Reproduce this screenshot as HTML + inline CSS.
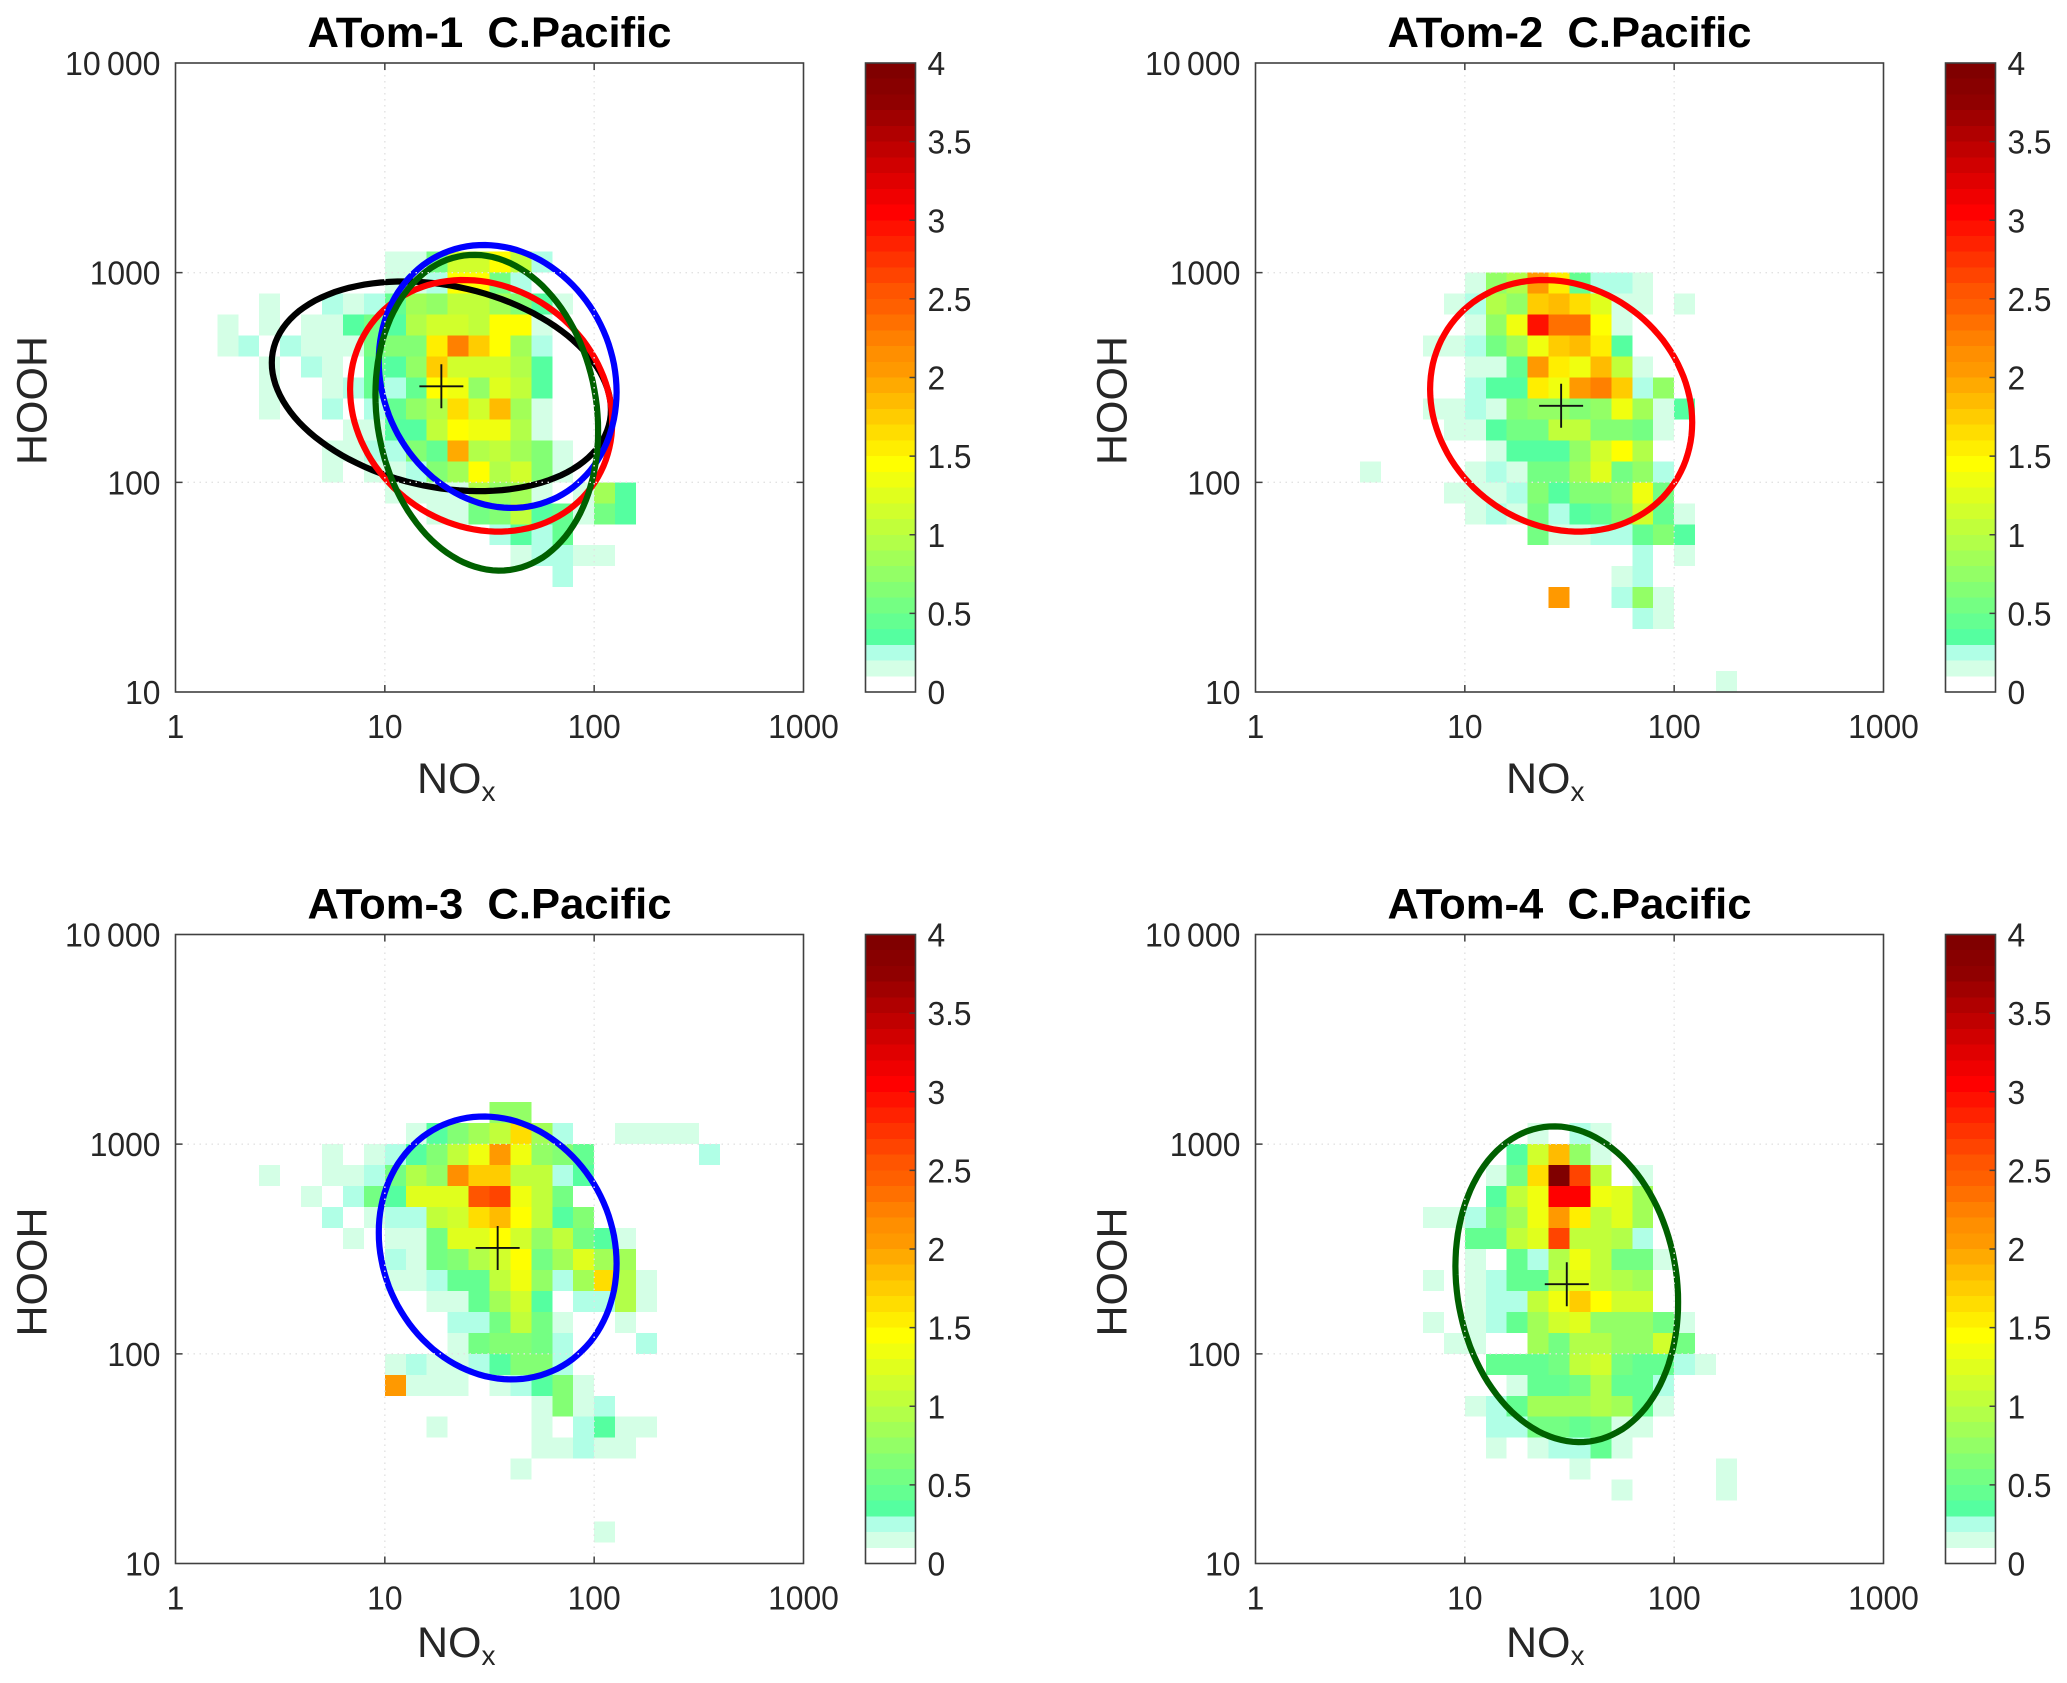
<!DOCTYPE html>
<html lang="en">
<head>
<meta charset="utf-8">
<title>ATom C.Pacific HOOH vs NOx</title>
<style>
html,body{margin:0;padding:0;background:#fff;}
svg{display:block;font-family:"Liberation Sans",sans-serif;}
</style>
</head>
<body>
<svg id="figure" xmlns="http://www.w3.org/2000/svg" width="2067" height="1683" viewBox="0 0 2067 1683"></svg>
<script>
// ---- chart data ----
const panelTitles = ["ATom-1  C.Pacific", "ATom-2  C.Pacific", "ATom-3  C.Pacific", "ATom-4  C.Pacific"];
const xTickValues = [1, 10, 100, 1000];
const xTickLabels = ["1", "10", "100", "1000"];
const yTickValues = [10, 100, 1000, 10000];
const yTickLabels = ["10", "100", "1000", "10\u2009000"];
const colorbarTickValues = [0, 0.5, 1, 1.5, 2, 2.5, 3, 3.5, 4];
const colorbarTickLabels = ["0", "0.5", "1", "1.5", "2", "2.5", "3", "3.5", "4"];

// Heatmap rows: [HOOH bin, first NOx bin, values]; bins are tenths of a decade above the axis minimum.
const atom1Rows = [
  [20,10,[.15,.15,.55,1.15,1.15,1.4,1,.25]],
  [19,10,[.15,.15,.25,1.4,1.4,.55,.25]],
  [18,4,[.15,0,0,.25,.15,.25,.4,.85,.75,1,1,.85,.65,.35,.15]],
  [17,2,[.15,0,.15,0,.15,.15,.35,.55,.35,.95,1.15,1.15,1.05,1.4,1.4,.15]],
  [16,2,[.15,.25,0,.25,.15,.15,.15,.5,.65,.65,1.55,2.25,1.75,1.45,.8,.25]],
  [15,4,[.15,0,.25,.15,0,.45,.35,.75,1.75,1.1,1.1,1.15,.9,.35]],
  [14,4,[.15,0,0,.15,.25,.45,.25,.4,1.4,1.3,.75,1.25,1,.35]],
  [13,4,[.15,0,0,.25,0,.25,.4,.7,.95,1.65,1.1,1.8,.8,.15]],
  [12,8,[.15,.15,.35,.35,1,1.45,1.35,1.3,.95,.15]],
  [11,7,[.15,.15,.25,.25,.6,.4,1.95,.9,1.05,.8,.6,.15]],
  [10,7,[.15,0,.15,.15,.25,.65,.85,1.45,.95,1.1,.6,.15]],
  [9,10,[.15,.15,.15,.15,.9,.7,.8,.15,0,.15,.85,.35]],
  [8,12,[.15,.15,.5,.6,1.05,.35,.45,.15,.55,.35]],
  [7,15,[.25,.35,.25,.4]],
  [6,16,[.15,.25,.25,.15,.15]],
  [5,18,[.25]]
];
const atom2Rows = [
  [19,10,[.15,.7,.9,2,1.5,.4,.25,.25,.15]],
  [18,9,[.15,.25,.9,.75,1.7,1.85,1.6,1.25,.15,.15,0,.15]],
  [17,10,[.15,.75,1.3,2.95,2.3,2.3,1.4,.15]],
  [16,8,[.15,.15,.25,.5,.8,1.3,1.7,1.8,1.55,.35]],
  [15,10,[.15,.15,.45,2.05,1.55,1.3,1.85,1,.15]],
  [14,10,[.25,.35,.35,1.55,1.3,2.05,2.2,1.75,.25,.75]],
  [13,8,[.15,.15,.25,.15,.65,.7,.7,.65,.75,1.3,.8,.15,.35]],
  [12,9,[.15,.15,.35,.5,.55,1,1,.6,.6,.55,.15]],
  [11,11,[.15,.35,.35,.35,.7,1.15,1.45,.95]],
  [10,5,[.15,0,0,0,0,.15,.25,.15,.5,.5,.85,1.25,.5,.7,.25]],
  [9,9,[.15,.15,.15,.25,.6,.35,.6,.6,.7,1.3,.5]],
  [8,10,[.15,.25,.15,.5,.25,.35,.45,.65,1.15,.45,.15]],
  [7,13,[.5,.15,.15,.25,.25,.45,.65,.35]],
  [6,18,[.25,0,.15]],
  [5,17,[.15,.25]],
  [4,14,[2.05,0,0,.25,.7,.15]],
  [3,18,[.25,.15]],
  [0,22,[.15]]
];
const atom3Rows = [
  [21,15,[.75,.75]],
  [20,11,[.15,.35,.65,.8,1,1.6,.85,.25,0,0,.15,.15,.15,.15]],
  [19,7,[.15,0,.15,.25,.35,.65,1.05,1.3,2,1.3,.7,.6,.4,0,0,0,0,0,.25]],
  [18,4,[.15,0,0,.15,.15,.25,.55,.95,.75,2.15,1.75,1.75,1.05,1,.25,.35]],
  [17,6,[.15,0,.25,.55,.35,1.25,1.25,1.25,2.5,2.65,1.3,1,.55]],
  [16,7,[.25,0,.15,.25,.25,1,1.1,1.6,1.8,1.4,1,.35,.65]],
  [15,8,[.15,0,.15,.15,.5,1.2,1.2,1.4,1.1,.7,1,.55,.35,.15]],
  [14,10,[.25,.15,.5,.65,.9,1.1,1.45,.5,.85,1.25,.85,.85]],
  [13,10,[.15,.15,.25,.45,.45,1.05,1.35,.75,.25,.8,1.6,.9,.15]],
  [12,12,[.15,.15,.45,.8,1.1,.35,0,.25,.25,.9,.15]],
  [11,13,[.25,.25,.5,1,.5,.15,0,0,.15]],
  [10,13,[.15,.5,.65,.65,.55,.25,0,0,0,.25]],
  [9,10,[.15,.25,.15,.15,.25,.35,.65,.65,.25]],
  [8,10,[2.05,.15,.15,.15,0,.15,.25,.35,.6,.15]],
  [7,17,[.15,.6,.15,.25]],
  [6,12,[.15,0,0,0,0,.15,0,.25,.35,.15,.15]],
  [5,17,[.15,.15,.25,.15,.15]],
  [4,16,[.15]],
  [1,20,[.15]]
];
const atom4Rows = [
  [20,13,[.15,0,.25,.15]],
  [19,12,[.35,1.1,1.85,.75,.15]],
  [18,11,[.15,.5,1.6,3.95,2.65,1.05,0,.15]],
  [17,11,[.35,1,1.3,3,3,1.3,1.25,.8]],
  [16,8,[.15,.15,.25,.55,.8,1.3,2.05,1.5,1.05,1.25,.8]],
  [15,10,[.4,.4,1,1.25,2.6,1.05,1,.95,.25]],
  [14,10,[.15,0,.4,.25,.95,1.3,1,.55,.55,.15]],
  [13,8,[.15,0,.15,.25,.4,.4,1,1.2,1,.9,.85]],
  [12,10,[.15,.25,.25,1.05,1.3,1.7,1.4,1.15,1.15]],
  [11,8,[.15,0,.15,.25,.4,.85,1.15,1.2,.75,.7,.7,.55,.15]],
  [10,9,[.15,.15,0,0,.85,.55,.9,.9,.7,.7,1.15,.5]],
  [9,11,[.4,.4,.4,.5,1,1.15,.5,.4,.4,.25,.15]],
  [8,12,[.15,.4,.4,.5,.9,.4,.4,.25]],
  [7,10,[.15,.25,.4,.8,.8,.8,.95,.85,.4,.15]],
  [6,11,[.25,.25,.5,.55,.4,.55,.15,.15]],
  [5,11,[.15,0,.15,.25,.25,.4,.15]],
  [4,15,[.15,0,0,0,0,0,0,.15]],
  [3,17,[.15,0,0,0,0,.15]]
];

// Ellipses in decades: centre, spreads and correlation, one entry per campaign.
const ellipseCampaigns = ["atom-1", "atom-2", "atom-3", "atom-4"];
const ellipseLogNOx = [1.27, 1.46, 1.539, 1.487];
const ellipseLogHOOH = [2.458, 2.365, 2.505, 2.332];
const ellipseSpreadNOx = [0.81, 0.626, 0.568, 0.532];
const ellipseSpreadHOOH = [0.50, 0.600, 0.627, 0.753];
const ellipseCorrelation = [-0.224, -0.132, -0.118, -0.114];
const ellipseColors = ["#000000", "#ff0000", "#0000ff", "#006000"];

const colormapBands = [
  "#ffffff","#d4ffe6","#b0ffe6","#55ffa0","#64ff91","#74ff83","#83ff74","#93ff66","#a2ff57","#b2ff49",
  "#c1ff3a","#d1ff2c","#e0ff1d","#f0ff0f","#ffff00","#ffee00","#ffdd00","#ffcc00","#ffbb00","#ffaa00",
  "#ff9900","#ff8f00","#ff8000","#ff7000","#ff6000","#ff5500","#ff4400","#ff3300","#ff2200","#ff1100",
  "#ff0000","#f00000","#e00000","#d00000","#c00000","#b00000","#a00000","#900000","#880000","#800000"
];
const heatmapRows = [atom1Rows, atom2Rows, atom3Rows, atom4Rows];
// Which ellipses are drawn on each panel, in paint order.
const panelEllipses = [[0, 1, 2, 3], [1], [2], [3]];
// Which ellipse's centre is marked with a cross on each panel.
const panelCrosses = [0, 1, 2, 3];

// ---- layout ----
const NS = "http://www.w3.org/2000/svg";
const svg = document.getElementById("figure");
const layout = {
  left: [175.5, 1255.5, 175.5, 1255.5],
  top: [63, 63, 934.5, 934.5],
  width: 628,
  height: 629,
  barOffset: 690,
  barWidth: 50,
  xLabelLeft: [417, 1506, 417, 1506],
  xLabelBase: [793, 793, 1657, 1657]
};
const colorScale = { min: 0, max: 4 };
const decades = { xMin: 0, xMax: 3, yMin: 1, yMax: 4 };
const ink = "#404040";
const labelInk = "#262626";

function make(tag, attrs, parent) {
  const el = document.createElementNS(NS, tag);
  for (const k in attrs) el.setAttribute(k, attrs[k]);
  parent.appendChild(el);
  return el;
}
function xAxis(p, logX) {
  return layout.left[p] + (logX - decades.xMin) / (decades.xMax - decades.xMin) * layout.width;
}
function yAxis(p, logY) {
  return layout.top[p] + layout.height - (logY - decades.yMin) / (decades.yMax - decades.yMin) * layout.height;
}
function barAxis(p, v) {
  return layout.top[p] + layout.height - (v - colorScale.min) / (colorScale.max - colorScale.min) * layout.height;
}
function bandColor(v) {
  const i = Math.max(0, Math.min(colormapBands.length - 1, Math.floor(v * 10 + 1e-6)));
  return colormapBands[i];
}
// Narrow the tick-label digits slightly, as the source figure's labels are tall and condensed.
function labelWidth(str) {
  let w = 0;
  for (const ch of str) {
    if (ch === ".") w += 8.6;
    else if (ch === "\u2009") w += 7;
    else w += 17.7;
  }
  return w;
}
function tickText(attrs, str, parent) {
  const lab = make("text", Object.assign({ "font-size": 33, fill: labelInk, textLength: labelWidth(str), lengthAdjust: "spacingAndGlyphs" }, attrs), parent);
  lab.textContent = str;
  return lab;
}

function drawPanel(p) {
  const g = make("g", {}, svg);
  
  

  const L = layout.left[p], T = layout.top[p], W = layout.width, H = layout.height;

  // heatmap
  const heat = make("g", { "shape-rendering": "crispEdges" }, g);
  
  
  heatmapRows[p].forEach(function (row) {
    const yBin = row[0], xStart = row[1], values = row[2];
    values.forEach(function (v, k) {
      if (v <= 0) return;
      const xBin = xStart + k;
      const x0 = xAxis(p, xBin / 10), x1 = xAxis(p, (xBin + 1) / 10);
      const y1 = yAxis(p, 1 + yBin / 10), y0 = yAxis(p, 1 + (yBin + 1) / 10);
      const cell = make("rect", { x: x0, y: y0, width: x1 - x0, height: y1 - y0, fill: bandColor(v) }, heat);
      
      
    });
  });

  // ellipses
  panelEllipses[p].forEach(function (e) {
    const pts = [];
    const cx = ellipseLogNOx[e], cy = ellipseLogHOOH[e], sx = ellipseSpreadNOx[e], sy = ellipseSpreadHOOH[e], r = ellipseCorrelation[e];
    for (let d = 0; d < 360; d += 3) {
      const t = d * Math.PI / 180;
      const lx = cx + sx * Math.cos(t);
      const ly = cy + sy * (r * Math.cos(t) + Math.sqrt(1 - r * r) * Math.sin(t));
      pts.push(xAxis(p, lx).toFixed(1) + "," + yAxis(p, ly).toFixed(1));
    }
    const ring = make("polygon", { points: pts.join(" "), fill: "none", stroke: ellipseColors[e], "stroke-width": 6.2 }, g);
    
    
  });

  // grid on top
  [1, 2].forEach(function (d) {
    const vx = xAxis(p, d), hy = yAxis(p, d + 1);
    const v = make("line", { x1: vx, x2: vx, y1: T, y2: T + H, stroke: "#e2e2e2", "stroke-width": 1.4, "stroke-dasharray": "1.5 4.5" }, g);
    
    
    const h = make("line", { x1: L, x2: L + W, y1: hy, y2: hy, stroke: "#e2e2e2", "stroke-width": 1.4, "stroke-dasharray": "1.5 4.5" }, g);
    
    
  });

  // centre cross
  const c = panelCrosses[p];
  const mx = xAxis(p, ellipseLogNOx[c]), my = yAxis(p, ellipseLogHOOH[c]);
  const cross = make("path", { d: "M" + (mx - 22) + " " + my + "H" + (mx + 22) + "M" + mx + " " + (my - 22) + "V" + (my + 22), stroke: "#111", "stroke-width": 1.9, fill: "none" }, g);
  
  

  // axes box
  const box = make("rect", { x: L, y: T, width: W, height: H, fill: "none", stroke: ink, "stroke-width": 1.6 }, g);
  
  

  // x ticks & labels
  xTickValues.forEach(function (v, i) {
    const x = xAxis(p, Math.log10(v));
    if (i > 0 && i < xTickValues.length - 1) {
      const t = make("path", { d: "M" + x + " " + (T + H) + "v-7M" + x + " " + T + "v7", stroke: ink, "stroke-width": 1.5, fill: "none" }, g);
      
      
    }
    const lab = tickText({ x: x, y: T + H + 46, "text-anchor": "middle" }, xTickLabels[i], g);
    
    
  });

  // y ticks & labels
  yTickValues.forEach(function (v, i) {
    const y = yAxis(p, Math.log10(v));
    if (i > 0 && i < yTickValues.length - 1) {
      const t = make("path", { d: "M" + L + " " + y + "h7M" + (L + W) + " " + y + "h-7", stroke: ink, "stroke-width": 1.5, fill: "none" }, g);
      
      
    }
    const lab = tickText({ x: L - 15, y: y + 12, "text-anchor": "end" }, yTickLabels[i], g);
    
    
  });

  // title
  const title = make("text", { x: L + W / 2, y: T - 16, "text-anchor": "middle", "font-size": 43, "font-weight": "bold", fill: "#000", "xml:space": "preserve", textLength: 364, lengthAdjust: "spacingAndGlyphs" }, g);
  title.style.whiteSpace = "pre";
  title.textContent = panelTitles[p];
  
  

  // x label
  const xl = make("text", { x: layout.xLabelLeft[p], y: layout.xLabelBase[p], "font-size": 43, fill: labelInk }, g);
  
  
  const no = make("tspan", {}, xl);
  no.textContent = "NO";
  const sub = make("tspan", { dy: 8, "font-size": 28 }, xl);
  sub.textContent = "x";

  // y label
  const yx = L - 129, yy = T + H / 2 + 23;
  const yl = make("text", { x: yx, y: yy, transform: "rotate(-90 " + yx + " " + yy + ")", "text-anchor": "middle", "font-size": 43, fill: labelInk }, g);
  yl.textContent = "HOOH";
  
  

  // colour bar
  const bar = make("g", {}, g);
  
  
  const BL = L + layout.barOffset, BW = layout.barWidth;
  const bands = make("g", { "shape-rendering": "crispEdges" }, bar);
  colormapBands.forEach(function (col, i) {
    const y0 = barAxis(p, (i + 1) / 10), y1 = barAxis(p, i / 10);
    const b = make("rect", { x: BL, y: y0, width: BW, height: y1 - y0, fill: col }, bands);
    
    
  });
  const frame = make("rect", { x: BL, y: T, width: BW, height: H, fill: "none", stroke: ink, "stroke-width": 1.6 }, bar);
  
  
  colorbarTickValues.forEach(function (v, i) {
    const y = barAxis(p, v);
    if (i > 0 && i < colorbarTickValues.length - 1) {
      const t = make("line", { x1: BL + BW - 6, x2: BL + BW, y1: y, y2: y, stroke: ink, "stroke-width": 1.5 }, bar);
      
      
    }
    const lab = tickText({ x: BL + BW + 12, y: y + 12 }, colorbarTickLabels[i], bar);
    
    
  });
}

panelTitles.forEach(function (_, p) { drawPanel(p); });
</script>
</body>
</html>
